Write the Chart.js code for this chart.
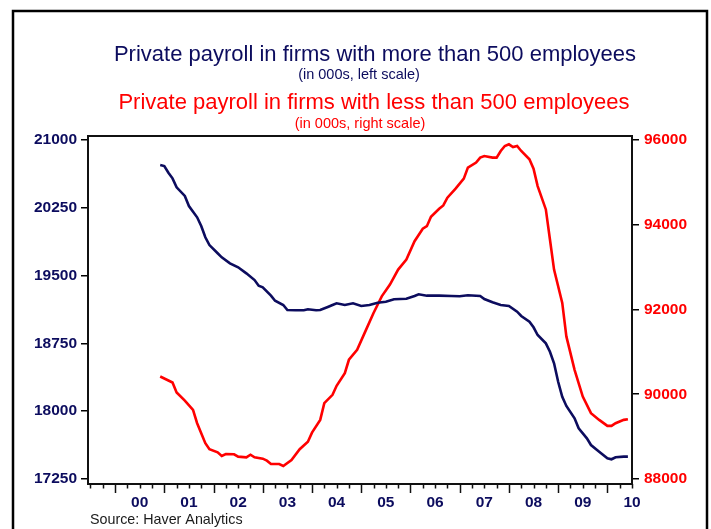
<!DOCTYPE html>
<html>
<head>
<meta charset="utf-8">
<script src="https://cdn.jsdelivr.net/npm/chart.js@4.4.1/dist/chart.umd.min.js"></script>
<style>
  html, body { margin: 0; padding: 0; background: #ffffff; }
  #wrap { width: 711px; height: 529px; position: relative; }
</style>
</head>
<body>
<div id="wrap"><canvas id="c" width="711" height="529"></canvas></div>
<script>
// Firms with 500+ employees (thousands, left scale)
const largeDates = ['2000-12','2001-01','2001-02','2001-03','2001-04','2001-06','2001-07','2001-09','2001-10','2001-11','2001-12',
  '2002-02','2002-03','2002-05','2002-07','2002-09','2002-11','2002-12','2003-01','2003-03','2003-04','2003-06','2003-07',
  '2003-09','2003-11','2003-12','2004-02','2004-03','2004-05','2004-06','2004-07','2004-09','2004-11','2005-01','2005-03',
  '2005-05','2005-07','2005-09','2005-12','2006-02','2006-03','2006-05','2006-08','2006-11','2007-01','2007-03','2007-06',
  '2007-07','2007-09','2007-11','2008-01','2008-03','2008-04','2008-06','2008-07','2008-08','2008-10','2008-11','2008-12',
  '2009-01','2009-02','2009-03','2009-05','2009-06','2009-08','2009-09','2009-11','2010-01','2010-02','2010-03','2010-05','2010-06'];
const largeValues = [20723,20712,20638,20576,20477,20381,20270,20145,20049,19924,19838,
  19747,19702,19636,19592,19525,19451,19388,19371,19278,19222,19175,19119,
  19116,19116,19127,19116,19119,19156,19175,19194,19175,19194,19164,19175,
  19200,19211,19238,19244,19274,19293,19278,19278,19274,19271,19282,19274,
  19241,19205,19175,19164,19101,19053,18990,18928,18843,18751,18658,18530,
  18326,18160,18058,17921,17811,17700,17626,17552,17479,17468,17490,17497,17497];

// Firms with fewer than 500 employees (thousands, right scale)
const smallDates = ['2000-12','2001-02','2001-03','2001-04','2001-06','2001-08','2001-09','2001-11','2001-12',
  '2002-02','2002-03','2002-04','2002-06','2002-07','2002-09','2002-10','2002-11','2003-01','2003-02','2003-03',
  '2003-05','2003-06','2003-08','2003-10','2003-12','2004-01','2004-03','2004-04','2004-06','2004-07','2004-09',
  '2004-10','2004-12','2005-02','2005-04','2005-06','2005-08','2005-10','2005-12','2006-02','2006-04','2006-05',
  '2006-06','2006-08','2006-09','2006-10','2006-12','2007-02','2007-03','2007-05','2007-06','2007-07','2007-09',
  '2007-10','2007-11','2007-12','2008-01','2008-02','2008-03','2008-04','2008-06','2008-07','2008-08','2008-10',
  '2008-11','2008-12','2009-02','2009-03','2009-05','2009-07','2009-09','2009-11','2010-01','2010-02','2010-03',
  '2010-05','2010-06'];
const smallValues = [90419,90324,90277,90040,89851,89631,89317,88844,88702,
  88631,88543,88590,88583,88527,88512,88574,88512,88479,88432,88354,
  88354,88307,88449,88702,88881,89094,89395,89790,89986,90199,90499,
  90814,91050,91483,91918,92311,92587,92942,93179,93611,93905,93966,
  94188,94378,94456,94638,94851,95087,95347,95466,95584,95622,95584,
  95584,95740,95858,95898,95834,95858,95740,95544,95324,94912,94361,
  93652,92942,92155,91365,90577,89946,89553,89395,89253,89253,89317,
  89395,89411];

const leftTicks = [17250, 18000, 18750, 19500, 20250, 21000];
const rightTicks = [88000, 90000, 92000, 94000, 96000];
const yearLabels = ['00','01','02','03','04','05','06','07','08','09','10'];
const firstYear = 2000;

const NAVY = '#0c0c5e';
const RED = '#ff0000';
const FONT = "'Liberation Sans', Arial, sans-serif";

function toYear(s) {
  const [y, m] = s.split('-').map(Number);
  return y + (m - 1) / 12;
}

const largeSeries = largeDates.map((d, i) => ({ x: toYear(d), y: largeValues[i] }));
const smallSeries = smallDates.map((d, i) => ({ x: toYear(d), y: smallValues[i] }));

// Frame, headings, source note and the quarterly tick marks under the plot
const decorations = {
  id: 'decorations',
  afterDraw(chart) {
    const ctx = chart.ctx;
    const a = chart.chartArea;
    const xs = chart.scales.x;
    ctx.save();

    ctx.strokeStyle = '#000';
    ctx.lineWidth = 2.5;
    ctx.strokeRect(13, 11, 694, 600);

    ctx.lineWidth = 2;
    ctx.strokeStyle = '#111';
    ctx.strokeRect(a.left, a.top, a.right - a.left, a.bottom - a.top);

    ctx.lineWidth = 1.5;
    ctx.beginPath();
    const endQ = firstYear + yearLabels.length - 0.5;
    for (let q = firstYear - 0.5; q <= endQ + 1e-6; q += 0.25) {
      const px = Math.round(xs.getPixelForValue(q)) + 0.5;
      const major = Math.abs(q - Math.round(q)) < 1e-6;
      ctx.moveTo(px, a.bottom);
      ctx.lineTo(px, a.bottom + (major ? 9 : 4.5));
    }
    ctx.stroke();

    ctx.textAlign = 'center';
    ctx.textBaseline = 'alphabetic';
    ctx.fillStyle = NAVY;
    ctx.font = '22px ' + FONT;
    ctx.fillText('Private payroll in firms with more than 500 employees', 375, 61);
    ctx.font = '14.5px ' + FONT;
    ctx.fillText('(in 000s, left scale)', 359, 79);
    ctx.fillStyle = RED;
    ctx.font = '22px ' + FONT;
    ctx.fillText('Private payroll in firms with less than 500 employees', 374, 109);
    ctx.font = '14.5px ' + FONT;
    ctx.fillText('(in 000s, right scale)', 360, 128);

    ctx.textAlign = 'left';
    ctx.fillStyle = '#1a1a1a';
    ctx.font = '14.3px ' + FONT;
    ctx.fillText('Source: Haver Analytics', 90, 524);
    ctx.restore();
  }
};

new Chart(document.getElementById('c'), {
  type: 'line',
  data: {
    datasets: [
      {
        label: 'Firms with more than 500 employees',
        data: largeSeries,
        yAxisID: 'y',
        borderColor: NAVY,
        borderWidth: 2.6,
        pointRadius: 0,
        tension: 0,
        fill: false
      },
      {
        label: 'Firms with less than 500 employees',
        data: smallSeries,
        yAxisID: 'y2',
        borderColor: RED,
        borderWidth: 2.6,
        pointRadius: 0,
        tension: 0,
        fill: false
      }
    ]
  },
  options: {
    responsive: false,
    animation: false,
    devicePixelRatio: 1,
    layout: { padding: { top: 136, left: 0, right: 0, bottom: 0 } },
    plugins: { legend: { display: false }, tooltip: { enabled: false }, title: { display: false } },
    scales: {
      x: {
        type: 'linear',
        min: 1999.45,
        max: 2010.5,
        grid: { display: false },
        border: { display: false },
        afterBuildTicks(scale) {
          scale.ticks = yearLabels.map((_, i) => ({ value: firstYear + i + 0.5 }));
        },
        afterFit(scale) { scale.height = 45; },
        ticks: {
          autoSkip: false,
          maxRotation: 0,
          padding: 1,
          color: NAVY,
          font: { family: FONT, size: 15.5, weight: 'bold' },
          callback(value, index) { return yearLabels[index]; }
        }
      },
      y: {
        position: 'left',
        min: 17194.7,
        max: 21044.3,
        afterBuildTicks(scale) {
          scale.ticks = leftTicks.map(v => ({ value: v }));
        },
        afterFit(scale) { scale.width = 88; },
        grid: { drawOnChartArea: false, drawTicks: true, tickLength: 7, color: '#000', lineWidth: 1.5 },
        border: { display: false },
        ticks: {
          padding: 4,
          color: NAVY,
          font: { family: FONT, size: 15.5, weight: 'bold' },
          callback(v) { return String(v); }
        }
      },
      y2: {
        position: 'right',
        min: 87882,
        max: 96094,
        afterBuildTicks(scale) {
          scale.ticks = rightTicks.map(v => ({ value: v }));
        },
        afterFit(scale) { scale.width = 79; },
        grid: { drawOnChartArea: false, drawTicks: true, tickLength: 7, color: '#000', lineWidth: 1.5 },
        border: { display: false },
        ticks: {
          padding: 5,
          color: RED,
          font: { family: FONT, size: 15.5, weight: 'bold' },
          callback(v) { return String(v); }
        }
      }
    }
  },
  plugins: [decorations]
});
</script>
</body>
</html>
